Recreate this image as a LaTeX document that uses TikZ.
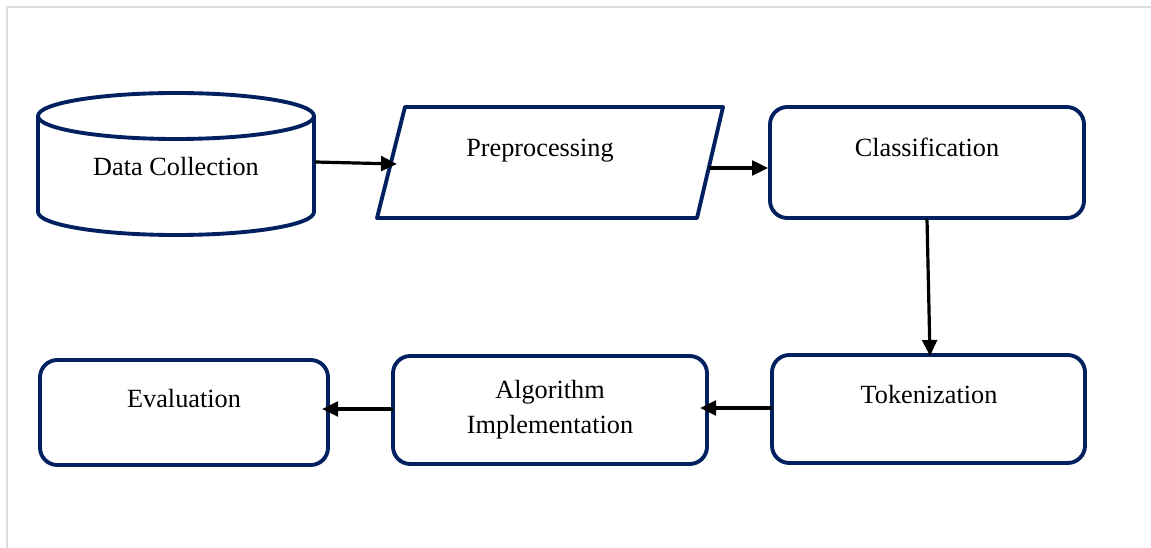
\documentclass[tikz,border=0pt]{standalone}
\usepackage{fontspec}
\setmainfont{Liberation Serif}
\usetikzlibrary{arrows.meta}
\definecolor{navy}{RGB}{0,32,96}
\definecolor{framegray}{RGB}{220,220,220}
\tikzset{
  shapeline/.style={draw=navy, line width=2.9pt, line join=round},
  box/.style={shapeline, rounded corners=13pt, inner sep=0pt, fill=white},
  lbl/.style={anchor=base, inner sep=0pt, font=\fontsize{19.7}{26.25}\selectfont, align=center},
  flow/.style={draw=black, line width=2.4pt, -{Triangle[length=12pt,width=11pt]}},
}
\begin{document}
\begin{tikzpicture}[x=0.75pt, y=-0.75pt]
\useasboundingbox (0,0) rectangle (1151,548);
% frame
\draw[framegray, line width=1.5pt] (6.5,548) -- (6.5,7.5) -- (1151,7.5);
% cylinder (Data Collection)
\draw[shapeline] (38,116) -- (38,212) arc[start angle=180, end angle=0, x radius=138, y radius=23] -- (314,116);
\draw[shapeline] (176,116) ellipse[x radius=138, y radius=23];
\node[lbl] (dc) at (176,176) {Data Collection};
\coordinate (dcR) at (315,162);
% parallelogram (Preprocessing)
\draw[shapeline] (405,107) -- (723,107) -- (697,218) -- (377,218) -- cycle;
\node[lbl] (pre) at (540,157) {Preprocessing};
\coordinate (preL) at (397,164);
\coordinate (preR) at (709,168);
% boxes
\node[box, minimum width=235.5pt, minimum height=83.25pt] (clsB) at (927,162.5) {};
\node[lbl] (cls) at (927,157) {Classification};
\node[box, minimum width=234.75pt, minimum height=81pt] (tokB) at (928.5,409) {};
\node[lbl] (tok) at (929,403) {Tokenization};
\node[box, minimum width=235.5pt, minimum height=81pt] (algB) at (550,410) {};
\node[lbl] (alg) at (550,433) {Algorithm\\Implementation};
\node[box, minimum width=216pt, minimum height=78.75pt] (evaB) at (184,412.5) {};
\node[lbl] (eva) at (184,407) {Evaluation};
% connectors
\coordinate (clsS) at (927,219);
\coordinate (tokN) at (930,356);
\coordinate (tokW) at (772,408);
\coordinate (algE) at (700,408);
\coordinate (algW) at (393,409);
\coordinate (evaE) at (322,409);
\draw[flow] (dcR) -- (preL);
\draw[flow] (preR) -- (clsB.west |- preR);
\draw[flow] (clsS) -- (tokN);
\draw[flow] (tokW) -- (algE);
\draw[flow] (algW) -- (evaE);
\end{tikzpicture}
\end{document}
